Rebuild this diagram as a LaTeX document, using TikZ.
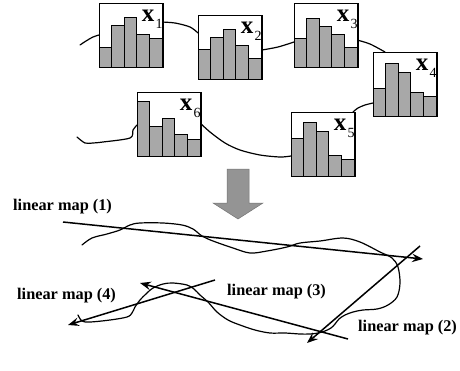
\documentclass[tikz,border=0pt]{standalone}
\usepackage{fontspec}
\setmainfont{Liberation Serif}
\usetikzlibrary{arrows.meta,calc}

\tikzset{
  histframe/.style={draw=black, line width=1pt, fill=white, inner sep=0pt,
    minimum width=63pt, minimum height=63pt, anchor=north west},
  histbar/.style={draw=black, line width=0.8pt, fill=black!34},
  trail/.style={line width=1.2pt, line join=round, line cap=round},
  mapline/.style={line width=1.5pt, -{Stealth[length=11pt,width=8.5pt,inset=4pt]}},
  maplabel/.style={font=\bfseries\fontsize{16.3}{18}\selectfont, inner sep=0pt, anchor=west},
  histlabel/.style={font=\bfseries\fontsize{25}{26}\selectfont, inner sep=0pt},
  histsub/.style={font=\fontsize{14}{15}\selectfont, inner sep=0pt},
  bigarrow/.style={fill=black!42, draw=black!55, line width=0.5pt, line join=miter},
}

% #1 name, #2 left, #3 top, #4-#8 bar tops below the frame top, #9 index
\newcommand\histbox[9]{%
  \node[histframe] (#1) at (#2,#3) {};
  \foreach \k/\h in {0/#4,1/#5,2/#6,3/#7,4/#8}
    \draw[histbar] ($(#1.south west)+(12.6*\k,0)$) rectangle ($(#1.south west)+(12.6*\k+12.6,\h-63)$);
  \draw[line width=1pt] (#1.south west) rectangle (#1.north east);
  \node[histlabel] (#1x) at ($(#1.north east)+(-15,13)$) {x};
  \node[histsub] (#1s) at ($(#1.north east)+(-4,21)$) {#9};
}

\begin{document}
\begin{tikzpicture}[x=1pt,y=-1pt]
\useasboundingbox (0,0) rectangle (460,370);

% trajectory through the six states
\draw[trail] plot[smooth] coordinates {(80,45) (86,41) (93,37) (99,35)};
\draw[trail] plot[smooth] coordinates {(161,22) (175,23) (190,27) (198,33)};
\draw[trail] plot[smooth] coordinates {(262,50) (278,47) (294,42)};
\draw[trail] plot[smooth] coordinates {(357,40) (370,44) (385,52)};
\draw[trail] plot[smooth] coordinates {(373,103) (365,105) (358,108) (353,112)};
\draw[trail] plot[smooth] coordinates {(199,122) (210,132) (225,143) (240,150) (260,155) (280,157) (291,156)};
\draw[trail] plot[smooth] coordinates {(77,137) (85,143) (93,143) (103,142) (130,138) (133,130) (137,125)};

\histbox{b1}{99}{3}{43}{21}{13}{30}{34}{1}
\histbox{b2}{198}{15}{33}{21}{13}{29}{42}{2}
\histbox{b3}{294}{3}{34}{14}{22}{30}{43}{3}
\histbox{b4}{373}{52}{35}{10}{19}{39}{43}{4}
\histbox{b5}{291}{112}{25}{9}{18}{42}{46}{5}
\histbox{b6}{137}{92}{8}{33}{25}{41}{46}{6}

% block arrow down
\draw[bigarrow] (227,169) -- (249,169) -- (249,203) -- (263,203) -- (238,219)
  -- (213,203) -- (227,203) -- cycle;

% the trajectory again, approximated piecewise
\draw[trail] plot[smooth, tension=0.55] coordinates {
  (82,245) (92,238) (107,234) (120,230) (130,225) (140,223) (163,223) (182,225)
  (193,229) (202,236) (213,241) (233,248) (250,253) (267,251) (287,247) (300,243)
  (320,241) (343,238) (360,242) (380,252) (392,258) (398,267) (400,283) (397,297)
  (388,305) (377,309) (363,310) (353,312) (345,315) (339,319) (335,324) (331,328)
  (325,331) (318,333) (310,334) (300,334) (285,333) (270,333) (255,330) (240,325)
  (228,320) (217,312) (208,302) (200,295) (194,289) (187,285) (173,283) (163,284)
  (153,288) (147,293) (140,300) (135,307) (132,313) (127,317) (110,320) (90,322)
  (82,321) (78,315)};

% linear maps
\coordinate (m1s) at (63,222);  \coordinate (m1e) at (423,259);
\coordinate (m2s) at (420,246); \coordinate (m2e) at (307,343);
\coordinate (m3s) at (348,339); \coordinate (m3e) at (140,283);
\coordinate (m4s) at (215,280); \coordinate (m4e) at (68,325);
\draw[mapline] (m1s) -- (m1e);
\draw[mapline] (m2s) -- (m2e);
\draw[mapline] (m3s) -- (m3e);
\draw[mapline] (m4s) -- (m4e);

\node[maplabel] (l1) at (13,207) {linear map (1)};
\node[maplabel] (l4) at (17,296) {linear map (4)};
\node[maplabel] (l3) at (227,292) {linear map (3)};
\node[maplabel] (l2) at (358,328) {linear map (2)};
\end{tikzpicture}
\end{document}
